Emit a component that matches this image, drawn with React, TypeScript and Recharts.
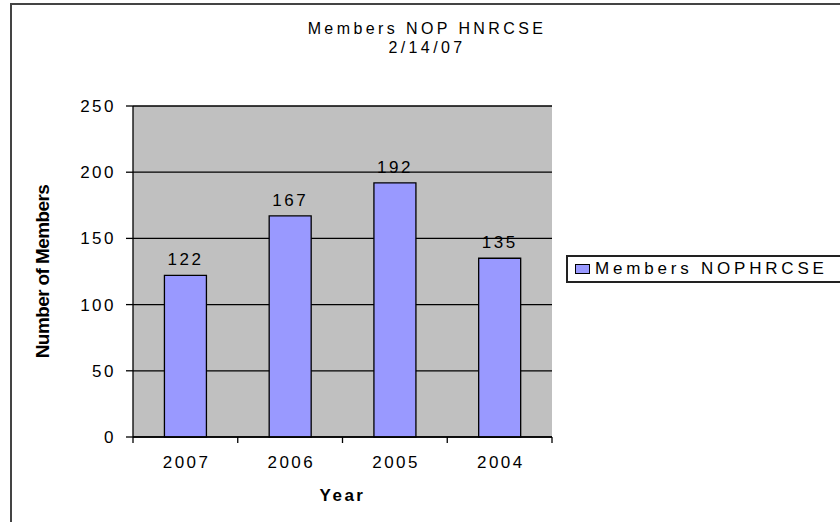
import { BarChart, Bar, XAxis, YAxis, CartesianGrid, Legend, LabelList } from 'recharts';

const years = ['2007', '2006', '2005', '2004'];
const members = [122, 167, 192, 135];
const yTicks = [0, 50, 100, 150, 200, 250];

const data = years.map((year, i) => ({ year, members: members[i] }));

const font = '"Liberation Sans", Arial, sans-serif';
const plotWidth = 840 - 133 - 288;
const halfBand = plotWidth / years.length / 2;

// Excel puts the x tick marks between categories, so draw them with the label
function YearTick(props: any) {
  const { x, y, payload, index } = props;
  const axisY = y - 19;
  return (
    <g>
      <line x1={x - halfBand} x2={x - halfBand} y1={axisY} y2={axisY + 6} stroke="#000" strokeWidth={1.3} />
      {index === years.length - 1 && (
        <line x1={x + halfBand} x2={x + halfBand} y1={axisY} y2={axisY + 6} stroke="#000" strokeWidth={1.3} />
      )}
      <text
        x={x + 1.25}
        y={y}
        dy="0.71em"
        textAnchor="middle"
        fill="#000"
        fontSize={17}
        fontFamily={font}
        letterSpacing={2.5}
      >
        {payload.value}
      </text>
    </g>
  );
}

function LegendBox() {
  return (
    <div
      style={{
        border: '2px solid #222',
        background: '#fff',
        height: 28,
        display: 'flex',
        alignItems: 'center',
        paddingLeft: 7,
        fontFamily: font,
        fontSize: 17,
        letterSpacing: 3.8,
        color: '#000',
        boxSizing: 'border-box',
        whiteSpace: 'nowrap',
      }}
    >
      <span
        style={{
          display: 'inline-block',
          width: 13,
          height: 8,
          background: '#9999FF',
          border: '1.5px solid #000',
          marginRight: 5,
        }}
      />
      Members NOPHRCSE
    </div>
  );
}

export default function App() {
  return (
    <div style={{ position: 'absolute', left: 0, top: 0, width: 840, height: 522, overflow: 'hidden', background: '#fff' }}>
      <div
        style={{
          position: 'absolute',
          left: 10,
          top: 3,
          width: 900,
          height: 600,
          border: '2px solid #444',
          boxSizing: 'border-box',
        }}
      />
      <div
        style={{
          position: 'absolute',
          left: 227,
          width: 400,
          top: 19,
          textAlign: 'center',
          fontFamily: font,
          fontSize: 16,
          lineHeight: '19px',
          letterSpacing: 3.4,
          color: '#000',
        }}
      >
        <div>Members NOP HNRCSE</div>
        <div>2/14/07</div>
      </div>
      <div style={{ position: 'absolute', left: 0, top: 0 }}>
        <BarChart
          width={840}
          height={522}
          data={data}
          margin={{ top: 106, right: 288, bottom: 0, left: 0 }}
          barCategoryGap="30%"
        >
          <CartesianGrid vertical={false} stroke="#000" strokeWidth={1.3} fill="#C0C0C0" />
          <XAxis
            dataKey="year"
            axisLine={{ stroke: '#000', strokeWidth: 1.3 }}
            tickLine={false}
            tickSize={6}
            tickMargin={13}
            height={85}
            tick={<YearTick />}
            label={{
              value: 'Year',
              position: 'insideTop',
              offset: 52,
              fill: '#000',
              fontSize: 17,
              fontWeight: 'bold',
              fontFamily: font,
              letterSpacing: 2.5,
            }}
          />
          <YAxis
            domain={[0, 250]}
            ticks={yTicks}
            width={133}
            tickSize={7}
            tickMargin={10}
            stroke="#000"
            strokeWidth={1.3}
            tick={{ fill: '#000', fontSize: 17, fontFamily: font, letterSpacing: 2.5 }}
            label={{
              value: 'Number of Members',
              angle: -90,
              position: 'insideLeft',
              offset: 42,
              style: { textAnchor: 'middle' },
              fill: '#000',
              fontSize: 19,
              fontWeight: 'bold',
              fontFamily: font,
              letterSpacing: -0.6,
            }}
          />
          <YAxis
            yAxisId="frame"
            orientation="right"
            width={0}
            domain={[0, 250]}
            tick={false}
            tickLine={false}
            axisLine={{ stroke: '#808080', strokeWidth: 2 }}
          />
          <Legend
            layout="vertical"
            align="center"
            verticalAlign="middle"
            wrapperStyle={{ left: 566, top: 255, width: 290 }}
            content={() => <LegendBox />}
          />
          <Bar
            dataKey="members"
            fill="#9999FF"
            stroke="#000"
            strokeWidth={1.3}
            isAnimationActive={false}
          >
            <LabelList
              dataKey="members"
              position="top"
              offset={10}
              fill="#000"
              fontSize={17}
              fontFamily={font}
              letterSpacing={2.5}
            />
          </Bar>
        </BarChart>
      </div>
    </div>
  );
}
